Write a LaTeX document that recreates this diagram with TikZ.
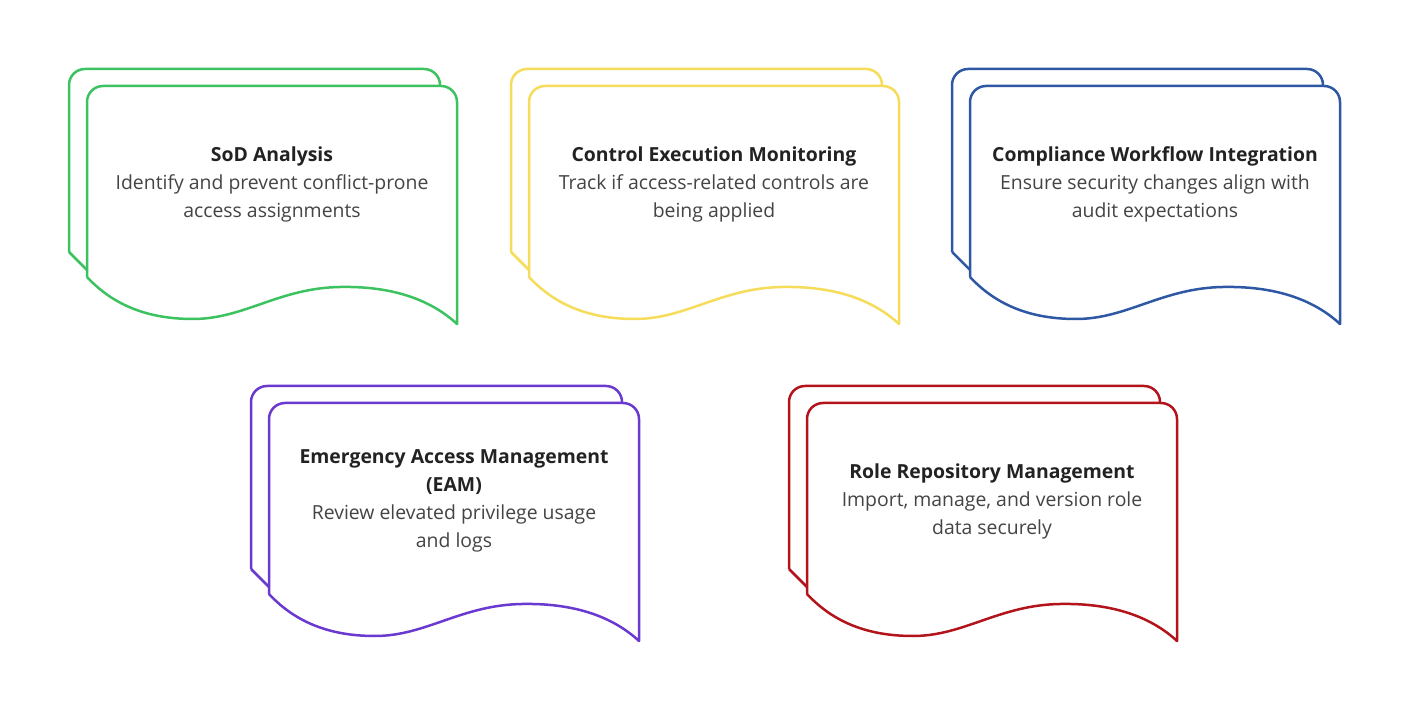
\documentclass[tikz,border=0pt]{standalone}
\usepackage{fontspec}
\setmainfont{Open Sans}
\definecolor{sodgreen}{HTML}{3CC35F}
\definecolor{ctrlyellow}{HTML}{F5DC5A}
\definecolor{compblue}{HTML}{2E57A4}
\definecolor{eampurple}{HTML}{6A3AD0}
\definecolor{rolered}{HTML}{B3141B}
\definecolor{titlegray}{HTML}{222222}
\definecolor{descgray}{HTML}{444444}

% stacked document shape: #1 x, #2 y, #3 colour, #4 name
\newcommand{\docstack}[4]{
  \draw[doc line, draw=#3, rounded corners=8] (#1,#2+183) -- (#1,#2) -- (#1+371,#2) -- (#1+371,#2+17);
  \draw[doc line, draw=#3] (#1,#2+183) -- (#1+18,#2+201);
  \draw[doc line, draw=#3, fill=white] (#1+18,#2+17+191)
    [rounded corners=8] -- (#1+18,#2+17) -- (#1+388,#2+17) [sharp corners] -- (#1+388,#2+17+238)
    .. controls (#1+360,#2+17+212) and (#1+320,#2+17+200) .. (#1+271,#2+17+201)
    .. controls (#1+210,#2+17+202) and (#1+175,#2+17+233) .. (#1+124,#2+17+233)
    .. controls (#1+80,#2+17+233) and (#1+45,#2+17+220) .. (#1+18,#2+17+191);
  \coordinate (#4) at (#1+203,#2+17+98);
}

\begin{document}
\begin{tikzpicture}[x=0.5pt,y=-0.5pt]
  % Styles
  \tikzset{
    doc line/.style={line width=1.25pt, line join=round},
    doc text/.style={align=center, font=\fontsize{9.7pt}{14pt}\selectfont, text=descgray}
  }
  \useasboundingbox (0,0) rectangle (1407,710);

  % Documents
  \docstack{69}{69}{sodgreen}{sod}
  \docstack{511}{69}{ctrlyellow}{ctrl}
  \docstack{952}{69}{compblue}{comp}
  \docstack{251}{386}{eampurple}{eam}
  \docstack{789}{386}{rolered}{role}

  % Texts
  \node[doc text] (sod_text) at (sod) {\textcolor{titlegray}{\bfseries SoD Analysis}\\Identify and prevent conflict-prone\\access assignments};
  \node[doc text] (ctrl_text) at (ctrl) {\textcolor{titlegray}{\bfseries Control Execution Monitoring}\\Track if access-related controls are\\being applied};
  \node[doc text] (comp_text) at (comp) {\textcolor{titlegray}{\bfseries Compliance Workflow Integration}\\Ensure security changes align with\\audit expectations};
  \node[doc text] (eam_text) at (eam) {\textcolor{titlegray}{\bfseries Emergency Access Management}\\\textcolor{titlegray}{\bfseries (EAM)}\\Review elevated privilege usage\\and logs};
  \node[doc text] (role_text) at (role) {\textcolor{titlegray}{\bfseries Role Repository Management}\\Import, manage, and version role\\data securely};
\end{tikzpicture}
\end{document}
